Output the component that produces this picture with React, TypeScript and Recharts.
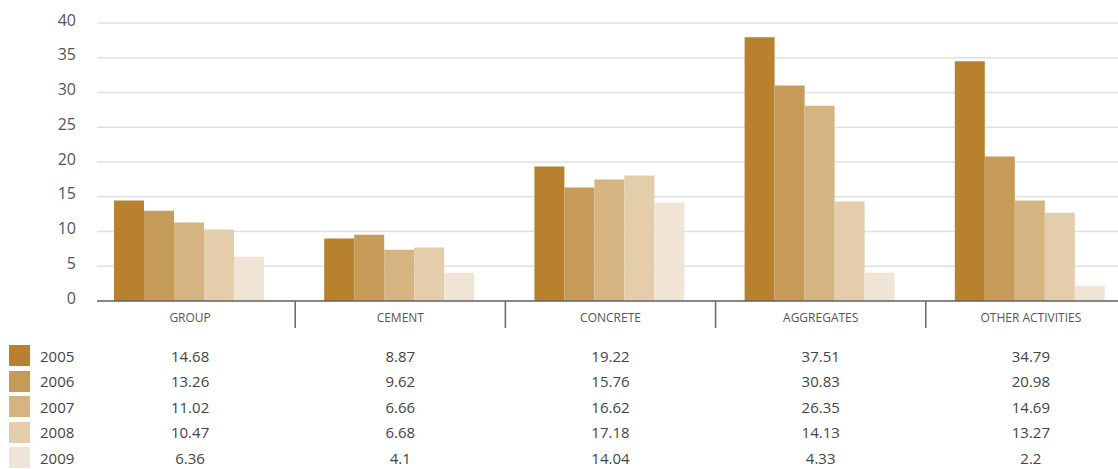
import React from 'react';
import { BarChart, Bar, XAxis, YAxis, CartesianGrid } from 'recharts';

// Categories and series
const categories = ['GROUP', 'CEMENT', 'CONCRETE', 'AGGREGATES', 'OTHER ACTIVITIES'];
const years = ['2005', '2006', '2007', '2008', '2009'];
const colors = ['#B8812E', '#C69A57', '#D5B482', '#E3CDAB', '#F0E4D4'];

// Bar heights as drawn in the picture
const bars2005 = [14.45, 8.98, 19.35, 37.94, 34.5];
const bars2006 = [13.0, 9.55, 16.33, 31.0, 20.8];
const bars2007 = [11.28, 7.39, 17.48, 28.1, 14.45];
const bars2008 = [10.27, 7.68, 18.05, 14.3, 12.7];
const bars2009 = [6.38, 4.08, 14.16, 4.08, 2.2];

// Values printed in the table
const table2005 = ['14.68', '8.87', '19.22', '37.51', '34.79'];
const table2006 = ['13.26', '9.62', '15.76', '30.83', '20.98'];
const table2007 = ['11.02', '6.66', '16.62', '26.35', '14.69'];
const table2008 = ['10.47', '6.68', '17.18', '14.13', '13.27'];
const table2009 = ['6.36', '4.1', '14.04', '4.33', '2.2'];

const yTicks = [0, 5, 10, 15, 20, 25, 30, 35, 40];

const seriesBars = [bars2005, bars2006, bars2007, bars2008, bars2009];
const tableRows = [table2005, table2006, table2007, table2008, table2009];

const data = categories.map((c, i) => {
  const row: Record<string, string | number> = { name: c };
  years.forEach((y, k) => {
    row['y' + y] = seriesBars[k][i];
  });
  return row;
});

const FONT = '"Open Sans", "Noto Sans", sans-serif';
const BAND_START = 85;
const BAND_W = 210.2;

const XTick = (props: any) => {
  const { x, y, payload, index } = props;
  const half = payload && payload.offset ? payload.offset : BAND_W / 2;
  return (
    <g>
      {index > 0 && (
        <line x1={x - half} x2={x - half} y1={y} y2={y + 27} stroke="#666" strokeWidth={1.5} />
      )}
      <text x={x} y={y + 17} dy="0.355em" textAnchor="middle" fill="#555" fontSize={12} fontFamily={FONT}>
        {payload.value}
      </text>
    </g>
  );
};

const YTick = (props: any) => {
  const { x, y, payload } = props;
  return (
    <text x={x} y={y - 3} dy="0.355em" textAnchor="end" fill="#555" fontSize={16} fontFamily={FONT}>
      {payload.value}
    </text>
  );
};

export default function App() {
  return (
    <div
      style={{
        position: 'absolute',
        left: 0,
        top: 0,
        width: 1118,
        height: 469,
        overflow: 'hidden',
        background: '#fff',
        fontFamily: FONT,
      }}
    >
      <BarChart
        width={1136}
        height={340}
        data={data}
        margin={{ top: 23, right: 0, bottom: 9, left: 0 }}
        barCategoryGap={29}
        barGap={0}
      >
        <CartesianGrid vertical={false} stroke="#e0e0e0" strokeWidth={1.5} />
        <XAxis
          dataKey="name"
          height={30}
          padding={{ left: -12, right: 0 }}
          tickLine={false}
          tickSize={0}
          tickMargin={0}
          axisLine={{ stroke: '#666', strokeWidth: 1.5 }}
          tick={<XTick />}
          interval={0}
        />
        <YAxis
          width={97}
          domain={[0, 40]}
          ticks={yTicks}
          axisLine={false}
          tickLine={false}
          tickSize={0}
          tickMargin={21}
          tick={<YTick />}
          interval={0}
        />
        {years.map((y, k) => (
          <Bar key={y} dataKey={'y' + y} fill={colors[k]} isAnimationActive={false} />
        ))}
      </BarChart>
      {years.map((y, k) => {
        const cy = 355.5 + k * 25.6;
        return (
          <React.Fragment key={y}>
            <div
              style={{
                position: 'absolute',
                left: 9,
                top: cy - 10.5,
                width: 21,
                height: 21,
                background: colors[k],
              }}
            />
            <div
              style={{
                position: 'absolute',
                left: 40,
                top: cy - 8,
                height: 16,
                lineHeight: '16px',
                fontSize: 15,
                color: '#444',
              }}
            >
              {y}
            </div>
            {tableRows[k].map((v, i) => (
              <div
                key={i}
                style={{
                  position: 'absolute',
                  left: BAND_START + BAND_W * i,
                  width: BAND_W,
                  top: cy - 8,
                  height: 16,
                  lineHeight: '16px',
                  fontSize: 15,
                  color: '#444',
                  textAlign: 'center',
                }}
              >
                {v}
              </div>
            ))}
          </React.Fragment>
        );
      })}
    </div>
  );
}
